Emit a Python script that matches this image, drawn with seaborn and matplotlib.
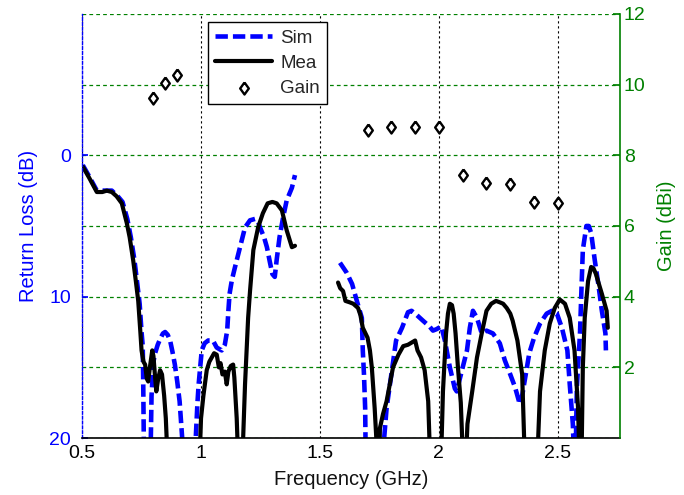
import numpy as np
import pandas as pd
import matplotlib
matplotlib.use("Agg")
import matplotlib.pyplot as plt
import seaborn as sns
from matplotlib.ticker import FixedLocator

# ---------------- data ----------------
mea1_f = [0.503, 0.53, 0.562, 0.585, 0.604, 0.625, 0.645, 0.667, 0.688, 0.70, 0.715, 0.726, 0.736, 0.745,
          0.75, 0.758, 0.765, 0.772, 0.778, 0.785, 0.795, 0.80, 0.806, 0.812, 0.82, 0.828, 0.836, 0.845,
          0.852, 0.858, 0.995, 1.0, 1.01, 1.024, 1.035, 1.045, 1.055, 1.066, 1.075, 1.082, 1.09, 1.1,
          1.108, 1.115, 1.125, 1.135, 1.14, 1.15, 1.155, 1.175, 1.185, 1.198, 1.206, 1.22, 1.24, 1.26,
          1.28, 1.30, 1.318, 1.34, 1.36, 1.382, 1.395]
mea1_rl = [0.8, 1.6, 2.6, 2.6, 2.5, 2.6, 2.9, 3.4, 4.8, 5.8, 7.45, 8.9, 10.3, 12.5,
           13.8, 14.6, 14.8, 15.8, 16.0, 15.0, 13.8, 14.2, 15.5, 16.7, 15.8, 15.2, 15.5, 17.0,
           18.6, 21, 21, 18.6, 17.0, 15.2, 14.6, 14.3, 14.0, 14.1, 15.0, 14.7, 15.5, 15.3,
           16.2, 15.3, 14.9, 14.8, 15.7, 18.6, 21, 21, 16.2, 11.5, 9.6, 6.7, 5.1, 4.1,
           3.4, 3.3, 3.4, 3.9, 5.3, 6.5, 6.4]

mea2_f = [1.576, 1.585, 1.597, 1.607, 1.625, 1.64, 1.66, 1.67, 1.68, 1.70, 1.71, 1.718, 1.73, 1.74,
          1.75, 1.752, 1.765, 1.78, 1.807, 1.83, 1.85, 1.87, 1.88, 1.90, 1.91, 1.925, 1.94, 1.955,
          1.962, 2.01, 2.017, 2.03, 2.038, 2.046, 2.055, 2.062, 2.07, 2.08, 2.092, 2.10, 2.115, 2.12,
          2.14, 2.16, 2.18, 2.20, 2.22, 2.24, 2.256, 2.27, 2.285, 2.30, 2.31, 2.33, 2.35, 2.36,
          2.415, 2.425, 2.445, 2.466, 2.487, 2.508, 2.53, 2.55, 2.57, 2.585, 2.59, 2.60, 2.605, 2.613,
          2.627, 2.64, 2.65, 2.66, 2.685, 2.705, 2.71]
mea2_rl = [9.0, 9.4, 9.6, 10.3, 10.4, 10.5, 10.8, 11.3, 12.2, 12.9, 13.8, 15.0, 17.9, 21,
           21, 19.3, 18.3, 17.4, 15.0, 14.1, 13.5, 13.4, 13.3, 13.1, 13.8, 14.3, 15.2, 17.4,
           21, 21, 16.7, 12.6, 11.2, 10.5, 10.6, 11.2, 12.6, 15.0, 17.5, 21, 21, 19.0,
           16.7, 14.3, 12.6, 11.0, 10.5, 10.3, 10.4, 10.5, 10.8, 11.2, 11.7, 13.1, 15.5, 21,
           21, 16.7, 13.8, 11.9, 10.8, 10.2, 10.5, 11.5, 13.8, 17.9, 21, 21, 15.0, 11.5,
           8.9, 7.9, 8.0, 8.4, 9.8, 11.0, 12.2]

sim1_f = [0.503, 0.53, 0.562, 0.60, 0.625, 0.65, 0.67, 0.69, 0.705, 0.72, 0.73, 0.742, 0.75, 0.755,
          0.757, 0.76, 0.788, 0.792, 0.80, 0.807, 0.818, 0.828, 0.84, 0.849, 0.86, 0.87, 0.88, 0.89,
          0.90, 0.91, 0.925, 0.975, 0.985, 0.99, 1.003, 1.015, 1.03, 1.05, 1.066, 1.087, 1.10, 1.11,
          1.115, 1.12, 1.13, 1.143, 1.164, 1.185, 1.206, 1.227, 1.24, 1.248, 1.265, 1.277, 1.29, 1.30,
          1.31, 1.318, 1.33, 1.345, 1.36, 1.382, 1.395]
sim1_rl = [0.7, 1.5, 2.5, 2.5, 2.5, 2.9, 3.3, 4.5, 5.8, 7.4, 8.8, 10.5, 12.5, 13.5,
           16.0, 21, 21, 17.0, 14.6, 14.0, 13.4, 13.0, 12.6, 12.5, 12.7, 13.1, 13.9, 14.8,
           16.0, 17.4, 21, 21, 17.5, 16.2, 13.8, 13.3, 13.1, 13.1, 13.6, 13.8, 13.4, 12.4,
           11.0, 9.8, 8.8, 7.9, 6.5, 5.1, 4.6, 4.5, 4.7, 5.1, 5.8, 6.5, 7.6, 8.4,
           8.6, 7.4, 5.8, 4.4, 3.2, 2.3, 1.4]

sim2_f = [1.584, 1.60, 1.612, 1.635, 1.655, 1.676, 1.68, 1.685, 1.69, 1.692, 1.765, 1.78, 1.80, 1.82,
          1.845, 1.87, 1.885, 1.907, 1.933, 1.96, 1.975, 1.99, 2.01, 2.025, 2.046, 2.067, 2.075, 2.085,
          2.10, 2.118, 2.13, 2.143, 2.16, 2.18, 2.20, 2.227, 2.256, 2.277, 2.30, 2.32, 2.34, 2.35,
          2.36, 2.38, 2.40, 2.425, 2.453, 2.475, 2.496, 2.517, 2.54, 2.55, 2.563, 2.567, 2.575, 2.58,
          2.593, 2.60, 2.605, 2.62, 2.63, 2.64, 2.655, 2.67, 2.685, 2.70, 2.702]
sim2_rl = [7.6, 8.0, 8.3, 9.1, 10.3, 11.5, 13.8, 15.5, 17.9, 21, 21, 17.9, 15.5, 13.1,
           12.2, 11.1, 11.0, 11.3, 11.7, 12.1, 12.4, 12.3, 12.1, 13.1, 15.0, 16.5, 16.7, 16.0,
           15.0, 13.8, 12.2, 11.0, 11.5, 12.6, 12.4, 12.6, 13.3, 14.5, 15.5, 16.4, 17.6, 17.0,
           16.0, 14.0, 12.9, 11.9, 11.2, 11.0, 11.2, 12.2, 13.8, 16.2, 19.0, 21, 21, 16.4,
           12.6, 9.1, 6.7, 5.0, 5.0, 5.5, 7.4, 9.1, 11.0, 12.6, 13.8]

gain_f = [0.8, 0.85, 0.9, 1.7, 1.8, 1.9, 2.0, 2.1, 2.2, 2.3, 2.4, 2.5]
gain_dbi = [9.62, 10.04, 10.27, 8.72, 8.81, 8.81, 8.81, 7.44, 7.21, 7.18, 6.69, 6.66]

x_ticks = [0.5, 1, 1.5, 2, 2.5]
rl_ticks = [0, 10, 20]
gain_ticks = [2, 4, 6, 8, 10, 12]

# ---------------- frames ----------------
def frame(segs):
    rows = []
    for i, (f, r) in enumerate(segs):
        rows.append(pd.DataFrame({"freq": f, "rl": r, "seg": i}))
    return pd.concat(rows, ignore_index=True)

df_sim = frame([(sim1_f, sim1_rl), (sim2_f, sim2_rl)])
df_mea = frame([(mea1_f, mea1_rl), (mea2_f, mea2_rl)])
df_gain = pd.DataFrame({"freq": gain_f, "gain": gain_dbi})

# ---------------- style ----------------
sns.set_theme(style="white")
plt.rcParams["font.family"] = ["Liberation Sans", "DejaVu Sans"]
BLUE = "#0000ff"
GREEN = "#008000"

fig = plt.figure(figsize=(6.84, 4.95), dpi=100)
ax = fig.add_axes([0.12, 0.115, 0.786, 0.857])
ax2 = ax.twinx()

sns.lineplot(data=df_sim, x="freq", y="rl", units="seg", estimator=None, sort=False,
             color=BLUE, linewidth=3.3, linestyle=(0, (2.7, 1.1)), ax=ax, label="Sim",
             legend=False)
sns.lineplot(data=df_mea, x="freq", y="rl", units="seg", estimator=None, sort=False,
             color="black", linewidth=3.0, ax=ax, label="Mea", legend=False)

diamond = [(0, 1), (0.72, 0), (0, -1), (-0.72, 0), (0, 1)]
sns.scatterplot(data=df_gain, x="freq", y="gain", marker=diamond, s=75, facecolor="white",
                edgecolor="black", linewidth=1.7, ax=ax2, label="Gain", legend=False, zorder=5)

# axes limits and ticks
ax.set_xlim(0.5, 2.76)
ax.set_ylim(20, -10)
ax.set_xticks(x_ticks)
ax.set_xticklabels([f"{t:g}" for t in x_ticks])
ax.set_yticks(rl_ticks)
ax.yaxis.set_minor_locator(FixedLocator([-10, -5, 5, 15]))
ax2.set_ylim(0, 12)
ax2.set_yticks(gain_ticks)

# grid
ax.yaxis.grid(True, which="both", color=GREEN, linestyle=(0, (3, 2.5)), linewidth=0.9)
ax.xaxis.grid(True, color="black", linestyle=(0, (2, 2.5)), linewidth=0.8)
ax.set_axisbelow(True)

# tick styling
ax.tick_params(axis="x", direction="in", length=4, colors="black", labelsize=14, pad=5)
ax.tick_params(axis="y", which="major", direction="in", length=4, color=BLUE,
               labelcolor=BLUE, labelsize=14, pad=8)
ax.tick_params(axis="y", which="minor", length=0)
ax2.tick_params(axis="y", direction="in", length=5, color=GREEN, labelcolor=GREEN,
                labelsize=14, pad=3)

# spines
for a in (ax, ax2):
    a.spines["top"].set_visible(False)
ax.spines["left"].set_color(BLUE)
ax.spines["left"].set_linestyle((0, (2, 1.5)))
ax.spines["left"].set_linewidth(1.0)
ax.spines["bottom"].set_color("black")
ax.spines["bottom"].set_linewidth(1.2)
ax.spines["right"].set_visible(False)
ax2.spines["left"].set_visible(False)
ax2.spines["bottom"].set_visible(False)
ax2.spines["right"].set_color(GREEN)
ax2.spines["right"].set_linewidth(1.2)

ax.set_xlabel("Frequency (GHz)", fontsize=14.5, color="#111111", labelpad=6)
ax.set_ylabel("Return Loss (dB)", fontsize=14.5, color=BLUE, labelpad=8)
ax2.set_ylabel("Gain (dBi)", fontsize=14.5, color=GREEN, labelpad=8)

# legend (one entry per series)
handles, labels = [], []
for a in (ax, ax2):
    for h, l in zip(*a.get_legend_handles_labels()):
        if l not in labels:
            handles.append(h)
            labels.append(l)
leg = ax2.legend(handles, labels, loc="upper left", bbox_to_anchor=(0.234, 0.981),
                 fontsize=13.5, frameon=True, fancybox=False, framealpha=1,
                 edgecolor="black", handlelength=3.0, borderpad=0.4, labelspacing=0.42,
                 handletextpad=0.45, borderaxespad=0)
leg.get_frame().set_linewidth(1.0)

fig.savefig("out.png", dpi=100)
